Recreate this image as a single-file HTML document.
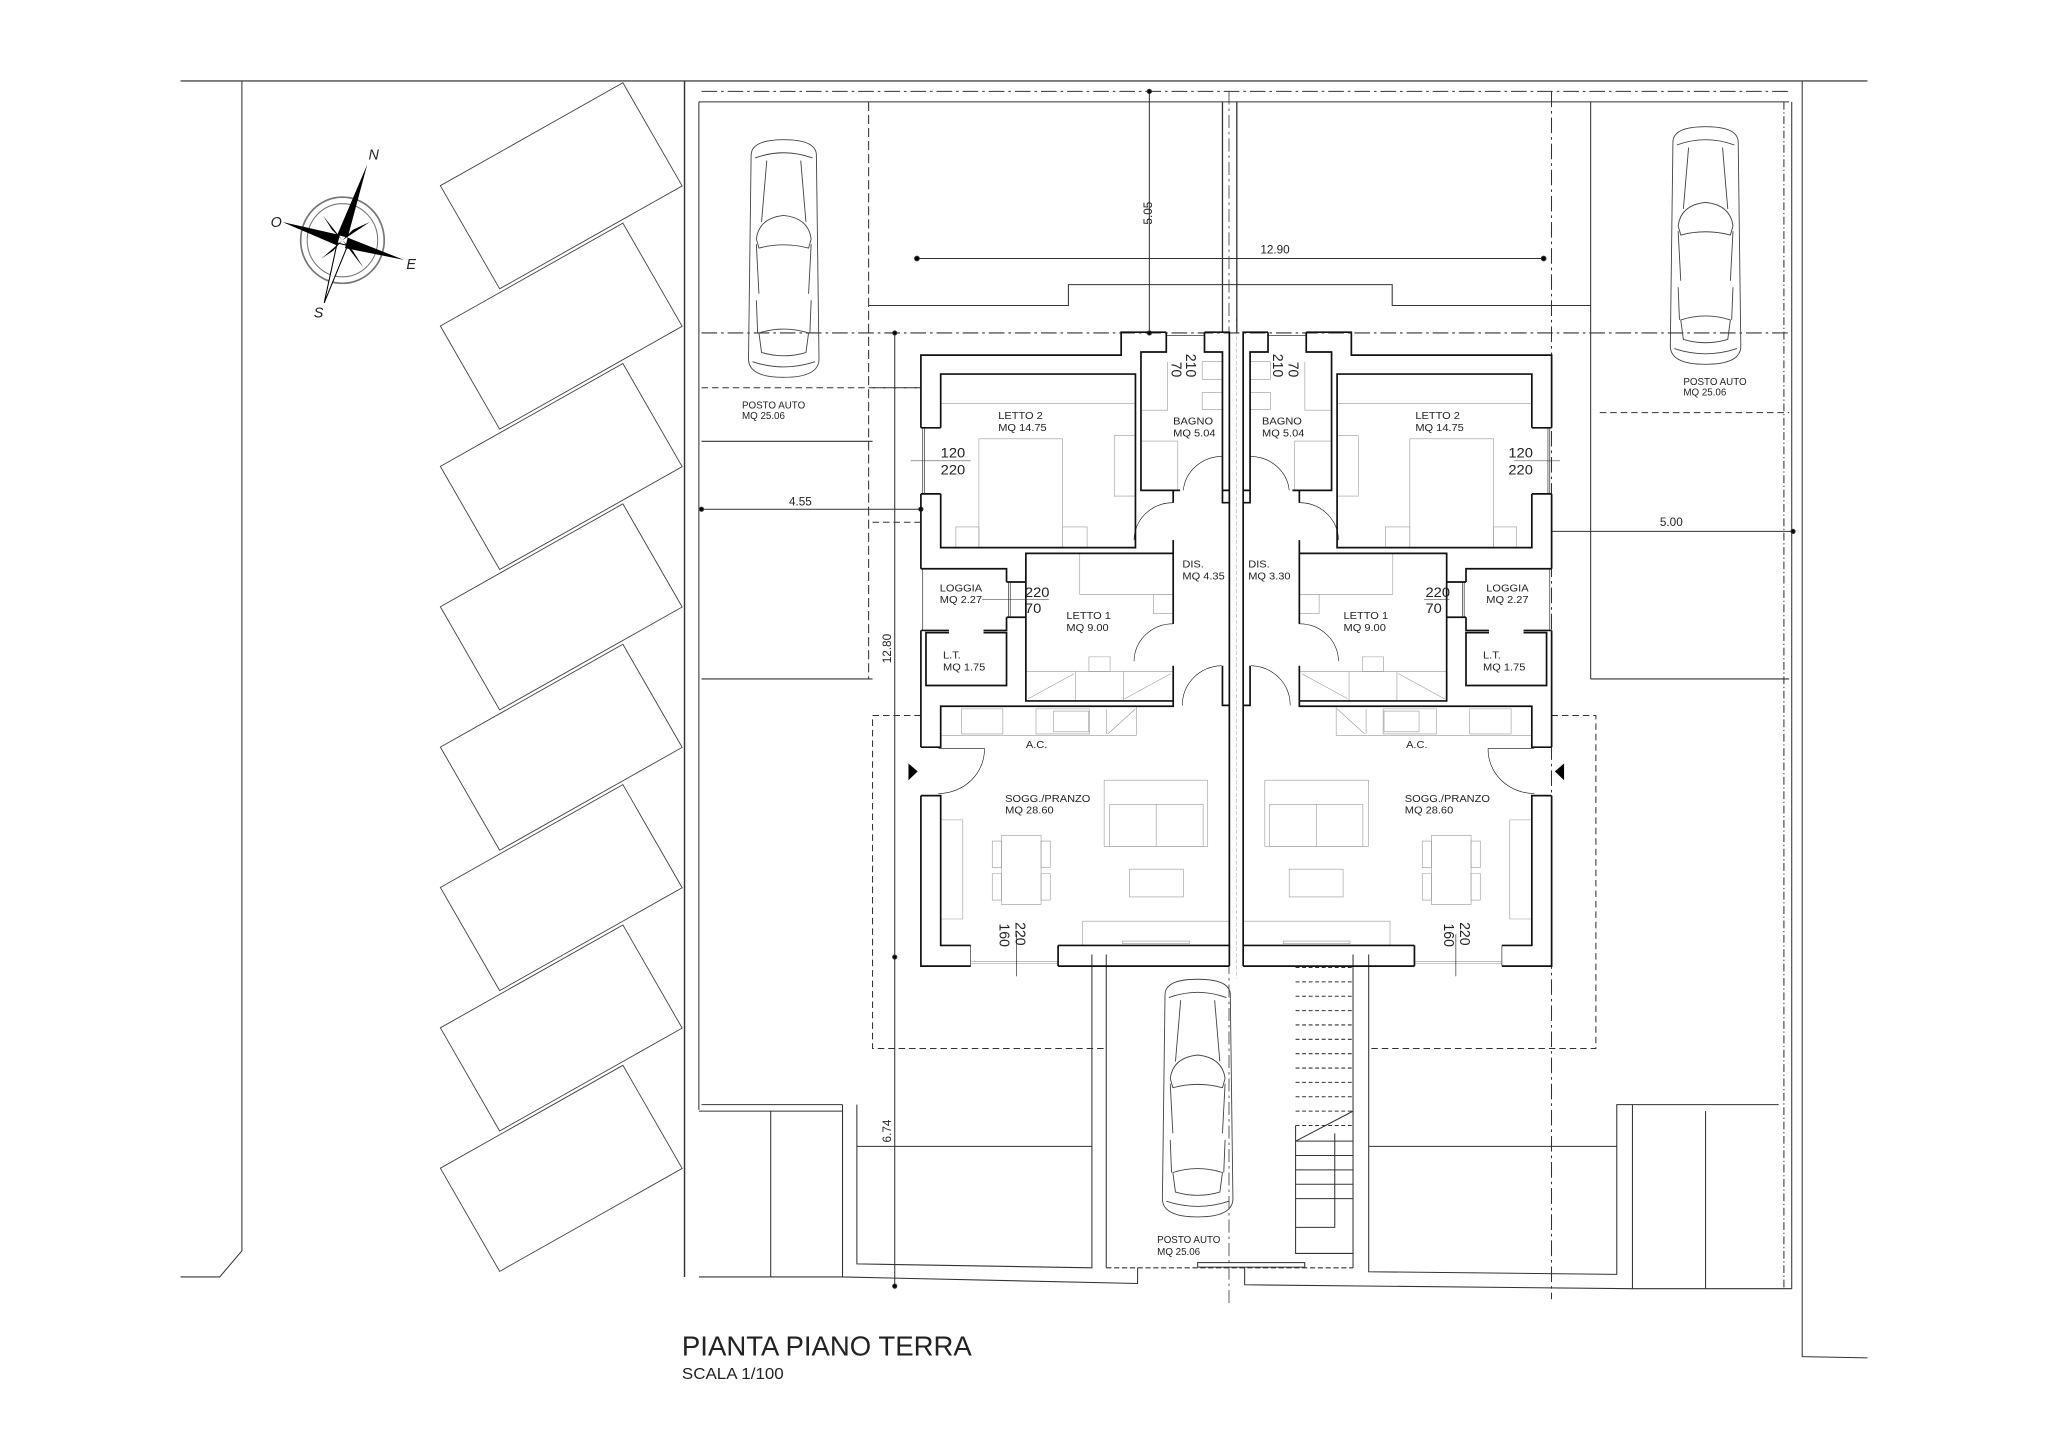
<!DOCTYPE html>
<html><head><meta charset="utf-8"><style>
html,body{margin:0;padding:0;background:#fff;}
svg{display:block;}
text{font-family:"Liberation Sans",sans-serif;fill:#222;}
</style></head><body>
<svg xmlns="http://www.w3.org/2000/svg" width="2048" height="1448" viewBox="0 0 1568 1109">
<defs>
<g id="car" fill="none" stroke="#444" stroke-width="0.7">
<path d="M8,14 Q8,2 33,2 Q58,2 58,14 L60,170 Q60,184 33,184 Q6,184 6,170 Z"/>
<path d="M11,16 Q33,8 55,16"/>
<path d="M20,18 L16,65 M46,18 L50,65"/>
<path d="M12,78 Q14,62 33,60 Q52,62 54,78 L52,85 Q33,80 14,85 Z"/>
<path d="M12,82 L14,120 M54,82 L52,120 M12,125 L13,150 M54,125 L53,150"/>
<path d="M14,150 Q33,144 52,150 L50,165 Q33,170 16,165 Z"/>
<path d="M9,172 Q33,180 57,172"/>
</g>
</defs>

<g fill="none" stroke="#333" stroke-width="0.8">
<line x1="138" y1="62" x2="1430" y2="62" stroke="#666" stroke-width="1.3"/>
<path d="M185,62 V958 L168,978 H138"/>
<line x1="524" y1="62" x2="524" y2="978" stroke-width="1.1"/>
<line x1="535" y1="78" x2="535" y2="850"/>
<line x1="535" y1="78" x2="1370" y2="78"/>
<path d="M1380,62 V1039 L1430,1040"/>
<line x1="1372" y1="78" x2="1372" y2="987"/>
<line x1="1366" y1="78" x2="1366" y2="987" stroke-dasharray="6,2,1,2"/>
<line x1="537" y1="70" x2="1372" y2="70" stroke-dasharray="12,3,2,3"/>
<line x1="537" y1="255" x2="1372" y2="255" stroke-dasharray="12,3,2,3"/>
<line x1="1188" y1="70" x2="1188" y2="995" stroke-dasharray="12,3,2,3"/>
<line x1="941" y1="70" x2="941" y2="1000" stroke-dasharray="10,3,2,3" stroke-width="0.6"/>
<line x1="665" y1="78" x2="665" y2="520" stroke-dasharray="7,3"/>
<line x1="1218" y1="78" x2="1218" y2="520"/>
<path d="M537,520 H668 M1218,520 H1370"/>
<path d="M537,297 H705" stroke-dasharray="5,3"/>
<path d="M1225,316 H1370" stroke-dasharray="5,3"/>
<path d="M537,338 H668"/>
<path d="M665,234 H818 V218 H1066 V234 H1218"/>
<path d="M936,78 V255 M947,78 V255" stroke-width="1"/>
<path d="M537,390 H705"/>
<circle cx="537" cy="390" r="1.6" fill="#000"/><circle cx="705" cy="390" r="1.6" fill="#000"/>
<path d="M1188,407 H1373"/><circle cx="1373" cy="407" r="1.6" fill="#000"/>
<path d="M702,198 H1182"/><circle cx="702" cy="198" r="1.8" fill="#000"/><circle cx="1182" cy="198" r="1.8" fill="#000"/>
<path d="M880,70 V255"/><circle cx="880" cy="70" r="1.6" fill="#000"/><circle cx="880" cy="255" r="1.6" fill="#000"/>
<path d="M685,255 V985"/><circle cx="685" cy="255" r="1.6" fill="#000"/><circle cx="685" cy="733" r="1.6" fill="#000"/><circle cx="685" cy="985" r="1.6" fill="#000"/>
<path d="M705,548 H668 V803 H847" stroke-dasharray="5,3"/>
<path d="M1188,548 H1222 V803 H1047" stroke-dasharray="5,3"/>
<path d="M668,297 H705 M668,400 H705" stroke-dasharray="5,3"/>
<path d="M535,851 H645 V978 H535 M537,846 H645"/>
<path d="M590,851 V978"/>
<path d="M645,846 V978 L871,983 V971"/>
<path d="M656,846 V968 L836,971 V731"/>
<path d="M656,878 H836"/>
<path d="M847,731 V971 M1036,731 V971"/>
<path d="M847,971 H1036" stroke-dasharray="4,2"/>
<rect x="917" y="967" width="82" height="3.5"/>
<path d="M953,971 V984 L1250,987"/>
<path d="M1048,731 V974 L1238,976 V846 H1362 M1250,846 V987 H1372"/>
<path d="M1048,878 H1238"/>
<path d="M1306,851 V987"/>
<path d="M992,741 H1036 M992,752 H1036 M992,763 H1036 M992,774 H1036 M992,785 H1036 M992,796 H1036 M992,807 H1036 M992,818 H1036 M992,829 H1036 M992,840 H1036 M992,851 H1036 M992,862 H1036" stroke-dasharray="3,2"/>
<path d="M992,874 H1036 M992,885 H1036 M992,896 H1036 M992,907 H1036 M992,918 H1036 M992,862 V960 H1036 M992,874 L1036,851 M1022,868 V940 H992"/>
<g stroke="#444" stroke-width="0.7">
<path d="M337,142.2 l139.8,-78.8 l45.4,79 l-139.8,78.8 z"/>
<path d="M337,249.7 l139.8,-78.8 l45.4,79 l-139.8,78.8 z"/>
<path d="M337,357.2 l139.8,-78.8 l45.4,79 l-139.8,78.8 z"/>
<path d="M337,464.7 l139.8,-78.8 l45.4,79 l-139.8,78.8 z"/>
<path d="M337,572.2 l139.8,-78.8 l45.4,79 l-139.8,78.8 z"/>
<path d="M337,679.7 l139.8,-78.8 l45.4,79 l-139.8,78.8 z"/>
<path d="M337,787.2 l139.8,-78.8 l45.4,79 l-139.8,78.8 z"/>
<path d="M337,894.7 l139.8,-78.8 l45.4,79 l-139.8,78.8 z"/>
</g>
</g>

<use href="#car" x="567" y="105"/>
<use href="#car" x="1273" y="95"/>
<use href="#car" x="884" y="748"/>

<g>
<ellipse cx="262" cy="184" rx="32" ry="33" fill="none" stroke="#777" stroke-width="1.3"/>
<ellipse cx="262" cy="184" rx="27" ry="28" fill="none" stroke="#777" stroke-width="0.8"/>
<polygon points="281,126 266,182 258,180" fill="#000"/>
<polygon points="248,232 258,186 266,188" fill="#fff" stroke="#000" stroke-width="0.8"/>
<polygon points="216,170 260,180 258,188" fill="#000"/>
<polygon points="309,199 264,190 266,182" fill="#000"/>
<polygon points="247,165 262,184 254,176" fill="#000"/>
<polygon points="283,170 262,184 270,176" fill="#000"/>
<polygon points="246,198 262,184 255,192" fill="#000"/>
<polygon points="278,205 262,184 270,192" fill="#000"/>
<text x="282" y="122" font-size="11" font-family="Liberation Serif" font-style="italic">N</text>
<text x="240" y="243" font-size="11" font-family="Liberation Serif" font-style="italic">S</text>
<text x="207" y="174" font-size="11" font-family="Liberation Serif" font-style="italic">O</text>
<text x="311" y="206" font-size="11" font-family="Liberation Serif" font-style="italic">E</text>
</g>

<g font-size="7.5">
<text x="568" y="313">POSTO AUTO</text><text x="568" y="321">MQ 25.06</text>
<text x="1289" y="295">POSTO AUTO</text><text x="1289" y="303">MQ 25.06</text>
<text x="886" y="952">POSTO AUTO</text><text x="886" y="961">MQ 25.06</text>
</g>
<g font-size="9">
<text x="604" y="387">4.55</text>
<text x="1271" y="403">5.00</text>
<text x="965" y="194">12.90</text>
<text transform="translate(882,172) rotate(-90)">5.05</text>
<text transform="translate(682,508) rotate(-90)">12.80</text>
<text transform="translate(682,875) rotate(-90)">6.74</text>
</g>
<text x="522" y="1038" font-size="21" textLength="222" lengthAdjust="spacingAndGlyphs">PIANTA PIANO TERRA</text>
<text x="522" y="1056" font-size="12" textLength="78" lengthAdjust="spacingAndGlyphs">SCALA 1/100</text>

<g transform="translate(672.6,243.3) scale(0.3526,0.3374)">
<g id="unit">
<g fill="none" stroke="#999" stroke-width="0.6">
<path vector-effect="non-scaling-stroke" d="M135,195 H558"/>
<rect vector-effect="non-scaling-stroke" x="218" y="275" width="182" height="247"/>
<rect vector-effect="non-scaling-stroke" x="168" y="475" width="50" height="47"/>
<rect vector-effect="non-scaling-stroke" x="400" y="475" width="53" height="47"/>
<rect vector-effect="non-scaling-stroke" x="512" y="268" width="46" height="137"/>
<rect vector-effect="non-scaling-stroke" x="703" y="100" width="44" height="40"/>
<rect vector-effect="non-scaling-stroke" x="703" y="170" width="44" height="38"/>
<rect vector-effect="non-scaling-stroke" x="570" y="280" width="80" height="112"/>
<path vector-effect="non-scaling-stroke" d="M570,210 H628 V100"/>
<rect vector-effect="non-scaling-stroke" x="437" y="535" width="203" height="93"/>
<rect vector-effect="non-scaling-stroke" x="597" y="628" width="43" height="44"/>
<rect vector-effect="non-scaling-stroke" x="457" y="770" width="46" height="33"/>
<path vector-effect="non-scaling-stroke" d="M320,803 H640 M428,803 V870 M532,803 V870 M325,865 L425,808 M535,865 L635,808"/>
<rect vector-effect="non-scaling-stroke" x="135" y="882" width="425" height="66"/>
<rect vector-effect="non-scaling-stroke" x="180" y="888" width="90" height="57"/>
<rect vector-effect="non-scaling-stroke" x="342" y="888" width="116" height="57"/>
<rect vector-effect="non-scaling-stroke" x="380" y="893" width="76" height="47"/>
<path vector-effect="non-scaling-stroke" d="M495,888 V945 M498,945 L558,888"/>
<rect vector-effect="non-scaling-stroke" x="490" y="1050" width="225" height="150"/>
<rect vector-effect="non-scaling-stroke" x="502" y="1105" width="203" height="95"/>
<path vector-effect="non-scaling-stroke" d="M603,1105 V1200"/>
<rect vector-effect="non-scaling-stroke" x="545" y="1252" width="117" height="63"/>
<rect vector-effect="non-scaling-stroke" x="267" y="1175" width="86" height="157"/>
<rect vector-effect="non-scaling-stroke" x="247" y="1188" width="20" height="60"/>
<rect vector-effect="non-scaling-stroke" x="247" y="1262" width="20" height="60"/>
<rect vector-effect="non-scaling-stroke" x="353" y="1188" width="20" height="60"/>
<rect vector-effect="non-scaling-stroke" x="353" y="1262" width="20" height="60"/>
<rect vector-effect="non-scaling-stroke" x="135" y="1140" width="48" height="225"/>
<rect vector-effect="non-scaling-stroke" x="443" y="1370" width="319" height="55"/>
<rect vector-effect="non-scaling-stroke" x="530" y="1415" width="145" height="6"/>
<path vector-effect="non-scaling-stroke" d="M200,1462 H390 M200,1466 H390"/>
</g>
<g fill="none" stroke="#111" stroke-width="1.7">
<path vector-effect="non-scaling-stroke" d="M92,250 V85 H527 V33 H625 M708,33 H762 V1472 M92,400 V570 M92,710 V975 M92,1085 V1472 H200 M390,1472 H762"/>
<path vector-effect="non-scaling-stroke" d="M135,250 V128 H558 V522 H135 V400 M92,250 H135 M92,400 H135"/>
<path vector-effect="non-scaling-stroke" d="M655,392 H570 V78 H625 V33 M708,33 V78 H747 V392 H762"/>
<path vector-effect="non-scaling-stroke" d="M640,392 V420 M640,505 V535 H320 V870 H640 V790 M640,535 V695"/>
<path vector-effect="non-scaling-stroke" d="M92,570 H278 V600 M278,680 V710 H228 M153,710 H92 M153,715 H103 V835 H278 V715 H228 M320,600 H278 M320,680 H278"/>
<path vector-effect="non-scaling-stroke" d="M92,975 H135 V882 H640 V870 M92,1085 H135 V1425 H200 M390,1425 V1472 M390,1425 H762 M747,790 V880 H762 M747,392 V420 H762"/>
</g>
<g fill="none" stroke="#111" stroke-width="0.6">
<path vector-effect="non-scaling-stroke" d="M96,250 V400 M100,250 V400 M282,600 V680 M286,600 V680 M625,40 H708 M96,570 V710"/>
<path vector-effect="non-scaling-stroke" d="M662,392 A85,85 0 0 1 747,315"/>
<path vector-effect="non-scaling-stroke" d="M555,505 A85,85 0 0 1 640,420"/>
<path vector-effect="non-scaling-stroke" d="M555,780 A85,85 0 0 1 640,695"/>
<path vector-effect="non-scaling-stroke" d="M660,880 A88,88 0 0 1 745,790"/>
<path vector-effect="non-scaling-stroke" d="M130,1080 A100,100 0 0 0 230,978 H130"/>
<path vector-effect="non-scaling-stroke" d="M200,1425 V1472 M300,1400 V1495"/>
</g>
<polygon points="65,1012 85,1030 65,1050" fill="#000"/>
</g>
<use href="#unit" transform="translate(1554,0) scale(-1,1)"/>
<line x1="777" y1="0" x2="777" y2="1500" stroke="#333" stroke-width="0.5" stroke-dasharray="10,4"/>
<g font-size="24">
<text x="260" y="230">LETTO 2</text><text x="260" y="257">MQ 14.75</text>
<text x="1166" y="230">LETTO 2</text><text x="1166" y="257">MQ 14.75</text>
<text x="640" y="243">BAGNO</text><text x="640" y="270">MQ 5.04</text>
<text x="833" y="243">BAGNO</text><text x="833" y="270">MQ 5.04</text>
<text x="660" y="567">DIS.</text><text x="660" y="594">MQ 4.35</text>
<text x="803" y="567">DIS.</text><text x="803" y="594">MQ 3.30</text>
<text x="133" y="622">LOGGIA</text><text x="133" y="648">MQ 2.27</text>
<text x="1320" y="622">LOGGIA</text><text x="1320" y="648">MQ 2.27</text>
<text x="408" y="684">LETTO 1</text><text x="408" y="711">MQ 9.00</text>
<text x="1010" y="684">LETTO 1</text><text x="1010" y="711">MQ 9.00</text>
<text x="140" y="774">L.T.</text><text x="140" y="801">MQ 1.75</text>
<text x="1313" y="774">L.T.</text><text x="1313" y="801">MQ 1.75</text>
<text x="320" y="977">A.C.</text><text x="1146" y="977">A.C.</text>
<text x="275" y="1099">SOGG./PRANZO</text><text x="275" y="1126">MQ 28.60</text>
<text x="1143" y="1099">SOGG./PRANZO</text><text x="1143" y="1126">MQ 28.60</text>
</g>
<g font-size="32">
<text x="135" y="318">120</text><text x="135" y="356">220</text>
<text x="1368" y="318">120</text><text x="1368" y="356">220</text>
<text x="318" y="634">220</text><text x="318" y="670">70</text>
<text x="1188" y="634">220</text><text x="1188" y="670">70</text>
<text transform="translate(668,82) rotate(90)">210</text>
<text transform="translate(636,100) rotate(90)">70</text>
<text transform="translate(857,82) rotate(90)">210</text>
<text transform="translate(890,100) rotate(90)">70</text>
<text transform="translate(263,1375) rotate(90)">160</text>
<text transform="translate(298,1372) rotate(90)">220</text>
<text transform="translate(1228,1375) rotate(90)">160</text>
<text transform="translate(1263,1372) rotate(90)">220</text>
</g>
<path d="M70,325 H200 M1380,325 H1480 M225,640 H370 M1185,640 H1240" stroke="#333" stroke-width="0.5" vector-effect="non-scaling-stroke"/>
</g>
</svg>
</body></html>
